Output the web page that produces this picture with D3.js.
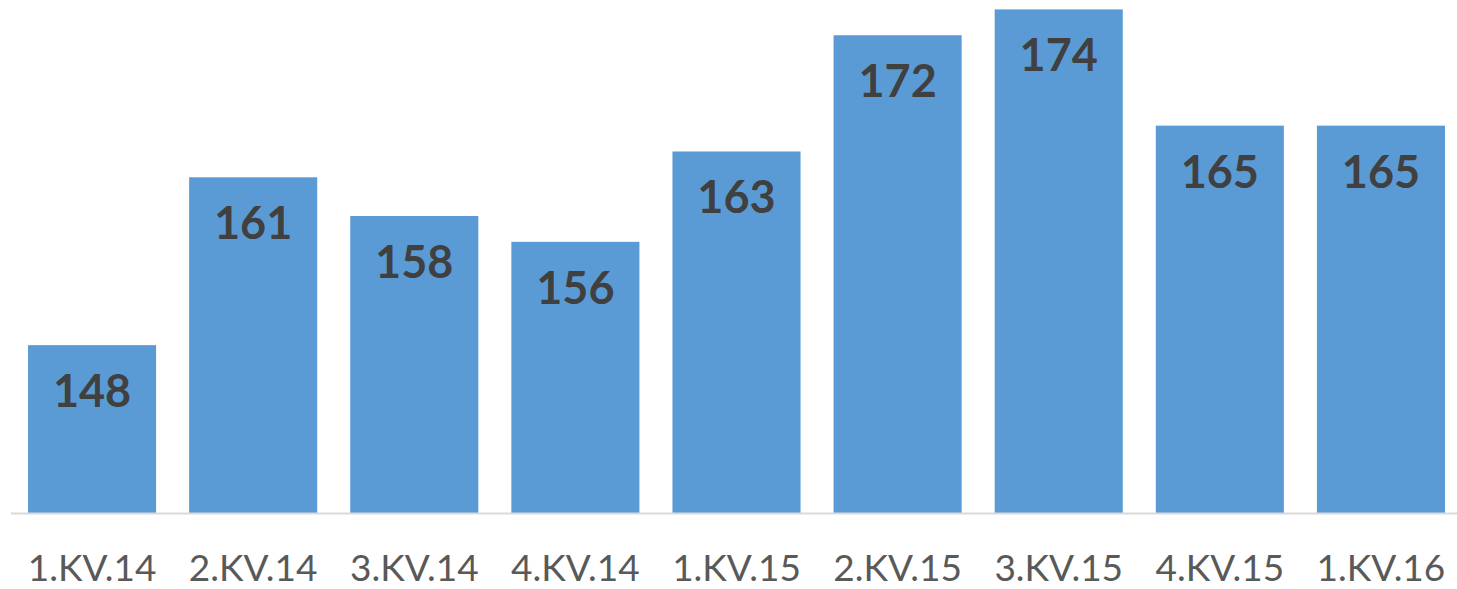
<!DOCTYPE html>
<html>
<head>
  <style>
    body {
      margin: 0;
      background: #fff;
    }
    .bar {
      fill: #5b9bd5;
    }
    .value {
      font-family: Lato, "Open Sans", sans-serif;
      font-weight: bold;
      font-size: 45px;
      fill: #404040;
      text-anchor: middle;
    }
    .axis path, .axis line {
      stroke: #d9d9d9;
    }
    .axis text {
      font-family: Lato, "Open Sans", sans-serif;
      font-size: 37px;
      fill: #595959;
    }
  </style>
</head>
<body>
  <script src="https://d3js.org/d3.v7.min.js"></script>
  <script>
    var categories = ["1.KV.14", "2.KV.14", "3.KV.14", "4.KV.14", "1.KV.15", "2.KV.15", "3.KV.15", "4.KV.15", "1.KV.16"];
    var values = [148, 161, 158, 156, 163, 172, 174, 165, 165];

    var width = 1457, height = 589;
    var baseline = 513;

    var svg = d3.select("body").append("svg")
        .attr("width", width)
        .attr("height", height);

    var x = d3.scaleBand()
        .domain(categories)
        .range([11.5, 1461.5])
        .paddingInner(0.205)
        .paddingOuter(0.1025);

    var y = d3.scaleLinear()
        .domain([135, 174.73])
        .range([baseline, 0]);

    var data = categories.map((c, i) => ({cat: c, value: values[i]}));

    svg.selectAll(".bar")
        .data(data)
      .enter().append("rect")
        .attr("class", "bar")
        .attr("x", d => x(d.cat))
        .attr("y", d => y(d.value))
        .attr("width", x.bandwidth())
        .attr("height", d => baseline - y(d.value));

    svg.selectAll(".value")
        .data(data)
      .enter().append("text")
        .attr("class", "value")
        .attr("x", d => x(d.cat) + x.bandwidth() / 2)
        .attr("y", d => y(d.value) + 62)
        .text(d => d.value);

    var axis = svg.append("g")
        .attr("class", "axis")
        .attr("transform", "translate(0," + baseline + ")")
        .call(d3.axisBottom(x).tickSize(0).tickPadding(68));

    axis.select(".domain")
        .attr("d", "M11,0.5H" + width)
        .attr("stroke-width", 2);
    axis.selectAll("text").attr("dy", 0);
  </script>
</body>
</html>
